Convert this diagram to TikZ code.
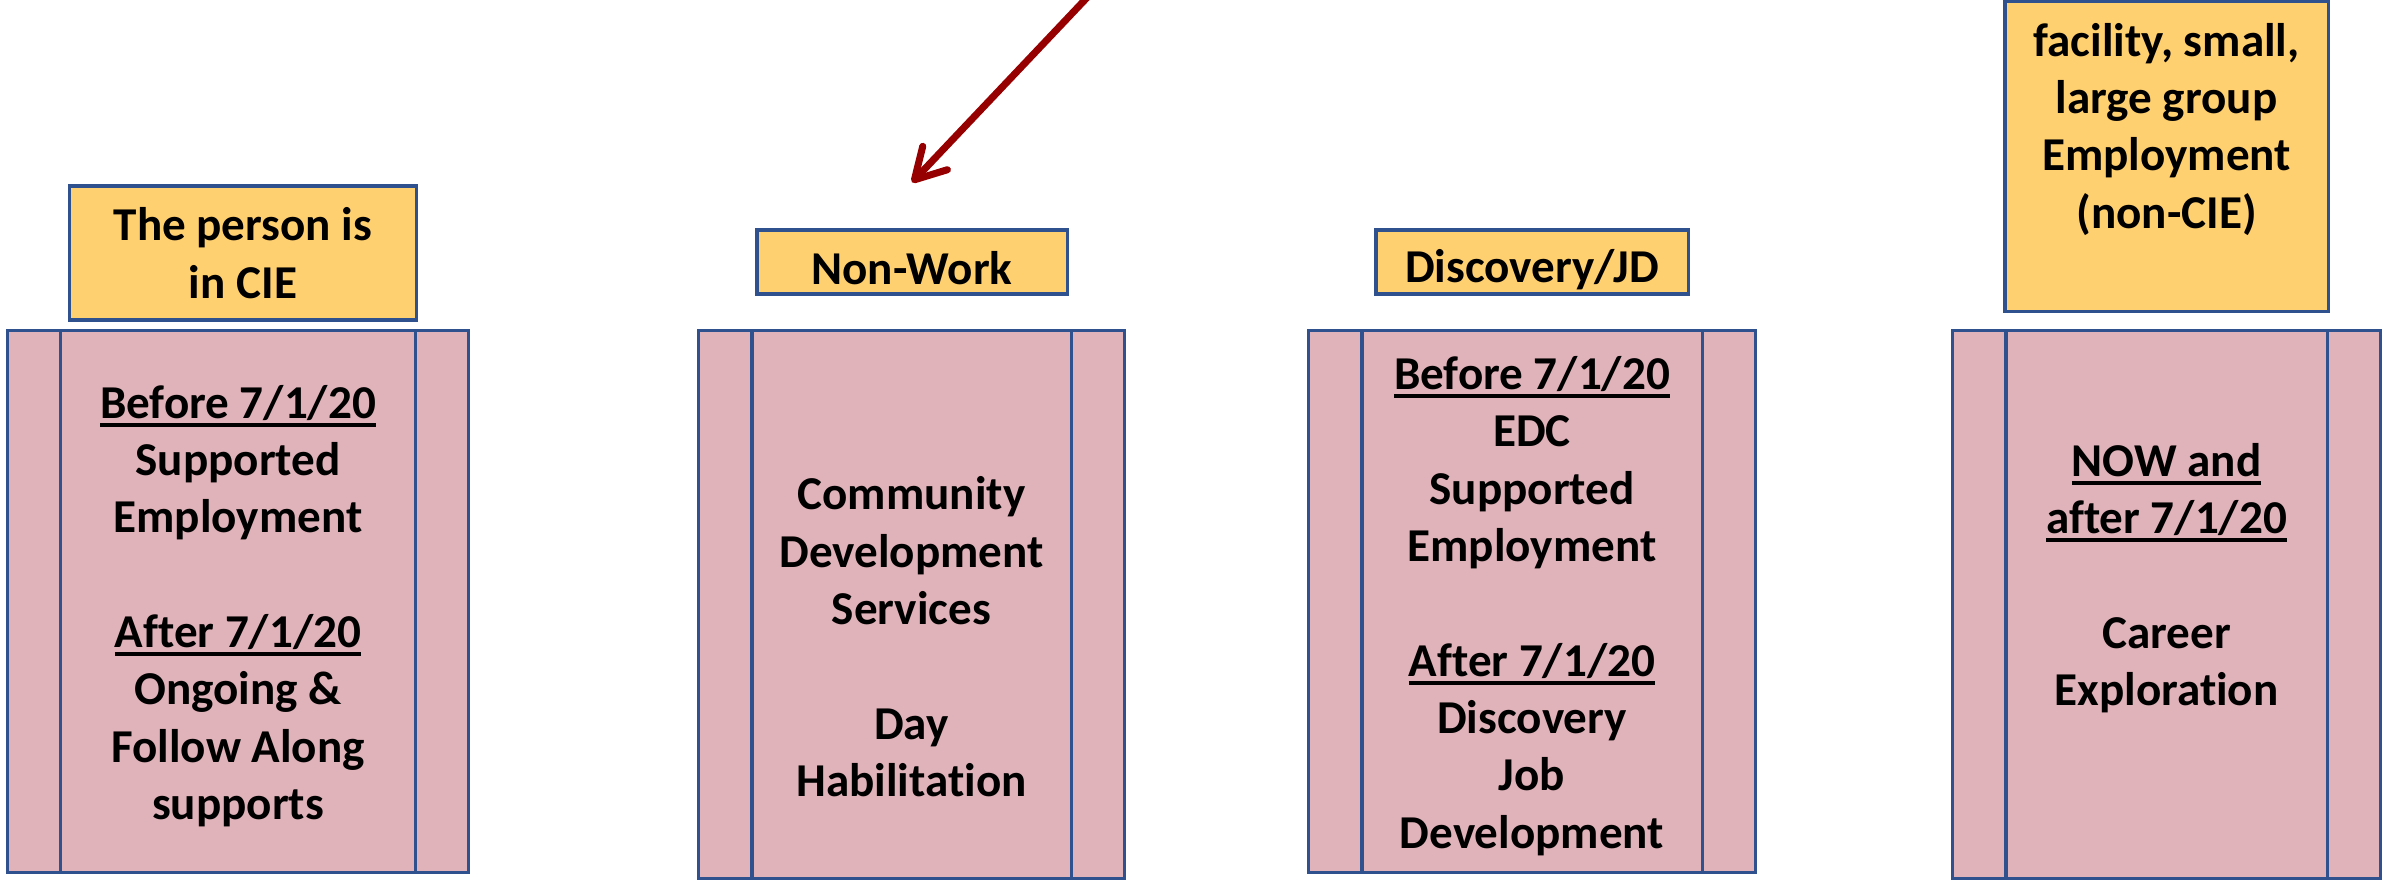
\documentclass[tikz,border=0pt]{standalone}
\usepackage{fontspec}
\setmainfont{Carlito}[Ligatures=CommonOff]
\usetikzlibrary{arrows.meta}
\definecolor{boxline}{RGB}{47,82,143}
\definecolor{pinkfill}{RGB}{224,178,185}
\definecolor{tagfill}{RGB}{255,208,112}
\definecolor{arrowred}{RGB}{150,0,0}
\newsavebox{\ulnbox}
\newcommand{\uln}[1]{\sbox{\ulnbox}{#1}\rlap{\rule[-2.4pt]{\wd\ulnbox}{1.1pt}}\usebox{\ulnbox}}

\begin{document}
\begin{tikzpicture}
[x=0.01cm,y=-0.01cm,
font=\fontsize{13.4pt}{16.3pt}\selectfont\bfseries,
tag/.style={rectangle,draw=boxline,fill=tagfill,line width=0.9pt,align=center,inner sep=0pt},
service/.style={rectangle,draw=boxline,fill=pinkfill,line width=0.9pt,align=center,inner sep=0pt,
  path picture={\draw[boxline,line width=0.9pt]
    ([xshift=0.53cm]path picture bounding box.north west) -- ([xshift=0.53cm]path picture bounding box.south west)
    ([xshift=-0.53cm]path picture bounding box.north east) -- ([xshift=-0.53cm]path picture bounding box.south east);}},
pointer/.style={draw=arrowred,line width=2pt,-{Straight Barb[length=0.3cm,width=0.34cm,round]}}]
\useasboundingbox (0,0) rectangle (2389,879);
\clip (0,0) rectangle (2389,879);
% headings
\node[tag,minimum width=3.46cm,minimum height=1.34cm] (cie) at (243,253) {The person is\\in CIE};
\node[tag,minimum width=3.1cm,minimum height=0.64cm] (nonwork) at (912,262) {\rule{0pt}{12.8pt}Non-Work};
\node[tag,minimum width=3.12cm,minimum height=0.64cm] (disc) at (1532,262) {\rule{0pt}{13.6pt}Discovery/JD};
\node[tag,minimum width=3.23cm,minimum height=3.09cm] (group) at (2166.5,156.5)
  {facility, small,\\large group\\Employment\\(non-CIE)\rule[-17.5pt]{0pt}{0pt}};
% services
\node[service,minimum width=4.6cm,minimum height=5.41cm] (ciesrv) at (238,601.5)
  {\rule{0pt}{12pt}\uln{Before 7/1/20}\\Supported\\Employment\\[\baselineskip]\uln{After 7/1/20}\\Ongoing \&\\Follow Along\\supports};
\node[service,minimum width=4.25cm,minimum height=5.47cm] (nonworksrv) at (911.5,604.5)
  {\strut\\Community\\Development\\Services\\[\baselineskip]Day\\Habilitation};
\node[service,minimum width=4.46cm,minimum height=5.41cm] (discsrv) at (1532,601.5)
  {\rule{0pt}{12pt}\uln{Before 7/1/20}\\EDC\\Supported\\Employment\\[\baselineskip]\uln{After 7/1/20}\\Discovery\\Job\\Development};
\node[service,minimum width=4.27cm,minimum height=5.47cm] (groupsrv) at (2166.5,604.5)
  {\uln{NOW and}\\\uln{after 7/1/20}\\[\baselineskip]Career\\Exploration\rule[-17pt]{0pt}{0pt}};
% arrow from above
\coordinate (src) at (1098,-14);
\coordinate (tip) at ([yshift=0.46cm]nonwork.north);
\draw[pointer] (src) -- (tip);
\end{tikzpicture}
\end{document}
